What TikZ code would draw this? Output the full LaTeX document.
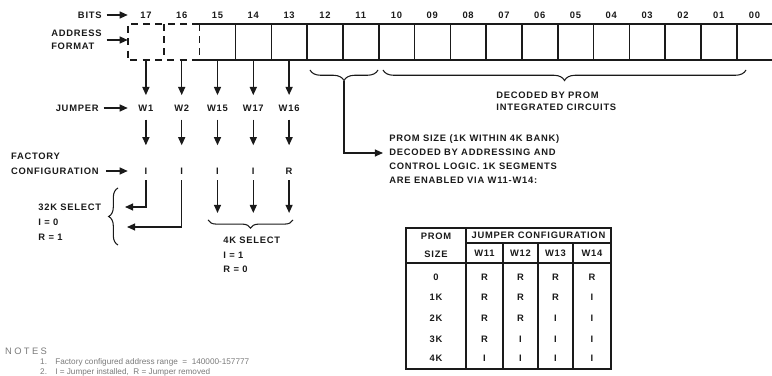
\documentclass[tikz,border=0pt]{standalone}
\usepackage{fontspec}
\setmainfont{Liberation Sans}
\newfontfamily\dgfont[LetterSpace=8]{Liberation Sans}
\newfontfamily\notefont{Liberation Sans}
\usepackage{tikz}
\usetikzlibrary{arrows.meta, decorations.pathreplacing, calc}
\definecolor{mInk}{HTML}{1A1A1A}
\definecolor{mNote}{HTML}{7A7A7A}

\begin{document}
\begin{tikzpicture}[x=0.03cm, y=-0.03cm,
    txt/.style={font=\dgfont\bfseries\fontsize{8}{#1}\selectfont, inner sep=1pt, text=mInk},
    txt/.default=11pt,
    note/.style={font=\notefont\fontsize{7}{9}\selectfont, inner sep=0pt, text=mNote},
    arr/.style={-{Triangle[length=7pt,width=6pt]}, line width=1.2pt, draw=mInk},
    reg/.style={line width=1.4pt, draw=mInk},
    brc/.style={decorate, decoration={brace, amplitude=#1}, line width=0.9pt, draw=mInk},
    brc/.default=8pt,
    tbl/.style={line width=1pt, draw=mInk}]
    \useasboundingbox (0,0) rectangle (772,376);

    % address register, bits 17 ... 00
    \foreach \b [count=\k from 0] in {17,16,15,14,13,12,11,10,09,08,07,06,05,04,03,02,01,00} {
      \node[inner sep=0pt, minimum width=1.074cm, minimum height=1.08cm] (b\b) at ({145.9+35.8*\k},42) {};
      \path (b\b) ++(0,-27) node[txt] (n\b) {\b};
    }
    \draw[reg, dash pattern=on 6pt off 4.5pt] (b15.north west) -- (b17.north west) -- (b17.south west) -- (b15.south west);
    \draw[reg, dash pattern=on 6pt off 4.5pt] (b17.north east) -- (b17.south east);
    \draw[reg, dash pattern=on 6pt off 4.5pt] (b15.north west) -- (b15.south west);
    \draw[reg] (b15.north west) -- (b00.north east);
    \draw[reg] (b15.south west) -- (b00.south east);
    \foreach \b in {15,14,13,12,11,10,09,08,07,06,05,04,03,02,01}
      \draw[reg] (b\b.north east) -- (b\b.south east);

    % row labels
    \node[txt, anchor=east] (bits) at (103,15) {BITS};
    \draw[arr, shorten <=3pt] (bits) -- (bits -| b17.west);
    \node[txt, anchor=east, align=left] (addr) at (103,40) {ADDRESS\\FORMAT};
    \draw[arr, shorten <=3pt] (addr) -- (addr -| b17.west);
    \node[txt, anchor=east] (jmp) at (100,108) {JUMPER};
    \draw[arr, shorten <=3pt] (jmp) -- (jmp -| b17.west);
    \node[txt=12.5pt, anchor=east, align=left] (fac) at (100,164) {FACTORY\\CONFIGURATION};

    % jumpers and factory setting
    \foreach \b/\w/\f in {17/W1/I, 16/W2/I, 15/W15/I, 14/W17/I, 13/W16/R} {
      \path (b\b) ++(0,66) node[txt] (j\b) {\w};
      \path (b\b) ++(0,129) node[txt] (f\b) {\f};
      \draw[arr, shorten >=7pt] (b\b) -- (j\b);
      \draw[arr, shorten <=6pt, shorten >=18pt] (j\b) -- (f\b);
    }
    \draw[arr, shorten <=5pt] (fac.east |- f17) -- (f17 -| b17.west);

    % 32K select
    \coordinate (s32a) at (125,207);
    \coordinate (s32b) at (127,227);
    \draw[arr, shorten <=4pt] (f17) |- (s32a);
    \draw[arr, shorten <=4pt] (f16) |- (s32b);
    \draw[brc=8pt] (118,245) -- (118,188);
    \node[txt=13pt, anchor=base west, align=left] (sel32) at (37,240.5) {32K SELECT\\I = 0\\R = 1};

    % 4K select
    \foreach \b in {15,14,13}
      \draw[arr, shorten <=4pt] (f\b) -- ($(f\b)+(0,42)$);
    \draw[brc=7pt] (293,220) -- (208,220);
    \node[txt=12.8pt, anchor=base west, align=left] (sel4) at (222,273) {4K SELECT\\I = 1\\R = 0};

    % PROM decoding
    \draw[brc=9pt] (378,70) -- (310,70);
    \coordinate (tipA) at (344,81);
    \coordinate (promin) at (383,153);
    \draw[arr] (tipA) |- (promin);
    \node[txt=12pt, anchor=base west, align=left] (prom) at (388,183.5) {PROM SIZE (1K WITHIN 4K BANK)\\DECODED BY ADDRESSING AND\\CONTROL LOGIC. 1K SEGMENTS\\ARE ENABLED VIA W11-W14:};
    \draw[brc=9pt] (746,70) -- (383,70);
    \node[txt=10.5pt, anchor=base west, align=left] (dec) at (495,111) {DECODED BY PROM\\INTEGRATED CIRCUITS};

    % jumper table
    \draw[tbl] (406,228) rectangle (611,369);
    \draw[tbl] (466,228) -- (466,369);
    \draw[tbl] (466,243) -- (611,243);
    \draw[tbl] (406,263) -- (611,263);
    \foreach \x in {503,538,573} \draw[tbl] (\x,243) -- (\x,369);
    \node[txt=15pt, align=center] (hsize) at (436,245) {PROM\\SIZE};
    \node[txt] (hjmp) at (538.5,235.5) {JUMPER CONFIGURATION};
    \foreach \w/\x in {W11/484.5, W12/520.5, W13/555.5, W14/592}
      \node[txt] (h\w) at (\x,253) {\w};
    \foreach \s/\y/\va/\vb/\vc/\vd in {0/277/R/R/R/R, 1K/297/R/R/R/I, 2K/318/R/R/I/I, 3K/339/R/I/I/I, 4K/358/I/I/I/I} {
      \node[txt] (s\s) at (436,\y) {\s};
      \node[txt] (v\s-11) at (484.5,\y) {\va};
      \node[txt] (v\s-12) at (520.5,\y) {\vb};
      \node[txt] (v\s-13) at (555.5,\y) {\vc};
      \node[txt] (v\s-14) at (592,\y) {\vd};
    }

    % notes
    \node[note, anchor=base west, font=\notefont\fontsize{8}{9}\addfontfeatures{LetterSpace=25}\selectfont] (notes) at (5,355) {NOTES};
    \node[note, anchor=base west] (note1) at (40,365) {1.\quad Factory configured address range \ = \ 140000-157777};
    \node[note, anchor=base west] (note2) at (40,375) {2.\quad I = Jumper installed,\ \ R = Jumper removed};
  \end{tikzpicture}
\end{document}
